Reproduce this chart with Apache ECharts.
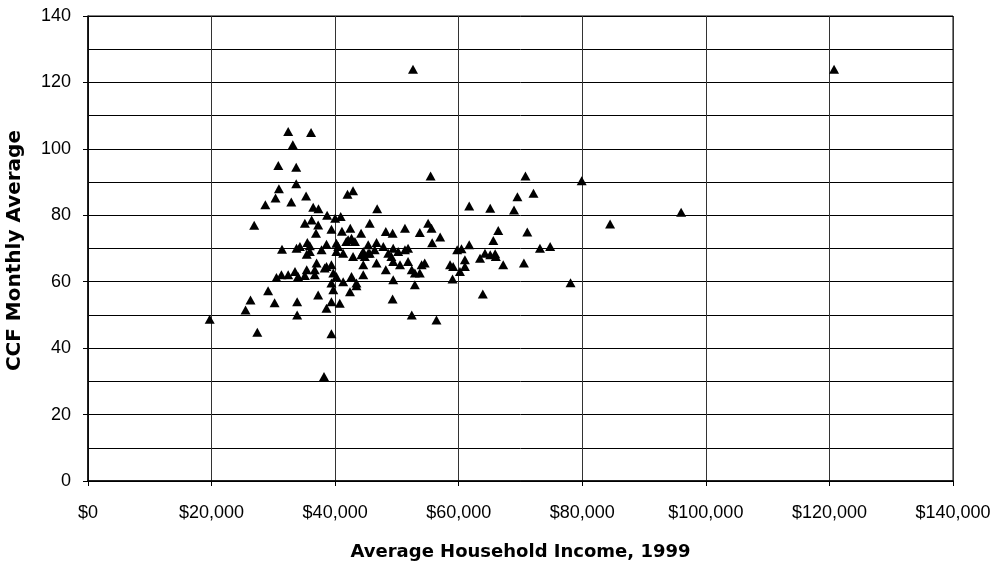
<!DOCTYPE html>
<html>
<head>
<meta charset="utf-8">
<script src="https://cdn.jsdelivr.net/npm/echarts@6/dist/echarts.min.js"></script>
<style>html,body{margin:0;padding:0;background:#fff}#c{width:1001px;height:564px}</style>
</head>
<body>
<div id="c"></div>
<script>
// Average household income (1999, $)
const incomes = [
19700,25500,26300,27400,26900,28700,29150,30350,30900,30800,
32400,36100,33150,33700,33700,32900,35300,36450,37300,42000,
42900,46800,31400,30500,31300,32400,33500,34000,35400,35100,
36700,30200,33850,33850,37250,38600,39400,40750,39700,42400,
43450,39400,38200,38700,40000,40900,35100,36200,37250,36900,
39400,41100,42450,45600,44200,46700,34300,35500,35900,35400,
37800,38600,40200,41800,42650,43200,40200,41300,42900,44550,
44800,45600,46400,46700,37000,36700,38600,39400,39700,40200,
41300,42650,43450,44550,39400,33750,40500,42100,44250,38300,
48200,49300,51300,53700,55050,55600,55700,57000,45350,45350,
47800,48600,49400,49100,50200,51300,51800,44550,48200,49400,
50500,51800,52400,52900,54000,54500,53700,49400,52900,49300,
52400,56400,55450,70800,79900,69500,72100,61700,65100,68950,
66400,71100,65600,73150,74800,59750,60450,61700,63450,64250,
65100,65900,66000,67200,70550,58600,59100,61000,61000,60200,
59000,63900,78100,84500,96000,120750,52600,35900
];
// CCF monthly average
const ccf = [
48.7,51.5,54.5,44.8,77.0,83.2,57.3,85.2,88.0,95.0,
105.2,104.9,101.2,94.5,89.5,84.0,85.8,82.4,82.0,86.3,
87.4,82.0,69.8,61.3,62.1,62.1,63.1,61.6,63.6,61.9,
62.1,53.7,54.0,50.0,56.0,52.0,54.0,53.5,57.6,57.0,
58.8,44.3,31.5,80.0,79.1,79.6,77.6,78.6,77.1,74.6,
75.8,75.2,76.1,77.6,74.6,71.8,70.6,71.8,70.8,68.3,
69.6,71.3,71.6,72.1,73.1,72.1,69.1,68.6,67.6,69.1,
67.6,68.6,69.6,65.6,65.6,63.6,64.6,65.1,62.6,61.6,
60.0,61.6,59.6,62.1,59.6,70.1,70.6,72.6,68.1,64.1,
75.1,74.6,76.1,74.8,77.6,76.1,71.7,73.5,71.1,68.6,
70.6,68.6,70.1,67.6,69.1,69.6,70.1,65.1,63.6,66.1,
65.1,66.1,63.6,62.6,65.1,65.6,62.6,60.6,59.1,54.8,
50.0,48.5,91.8,91.8,90.4,85.6,86.6,82.8,82.1,81.6,
75.4,75.0,72.4,70.1,70.6,69.6,69.9,71.1,67.1,68.6,
68.1,68.4,67.6,65.1,65.6,65.1,64.6,66.6,64.6,63.1,
60.8,56.3,59.7,77.4,80.9,124.0,124.0,69.1
];
const xTicks = [0,20000,40000,60000,80000,100000,120000,140000];
const yTicks = [0,20,40,60,80,100,120,140];
const xTitle = 'Average Household Income, 1999';
const yTitle = 'CCF Monthly Average';

const points = incomes.map((v,i)=>[v, ccf[i]]);
const chart = echarts.init(document.getElementById('c'), null, {renderer:'canvas'});
const fam = 'Liberation Sans, Arial, sans-serif';
chart.setOption({
  animation:false,
  backgroundColor:'#fff',
  grid:{left:88,right:48,top:16,bottom:83,show:true,borderColor:'#000',borderWidth:1,
        containLabel:false,outerBoundsMode:'none'},
  graphic:[{
    type:'text', left:5, top:130, rotation:Math.PI/2,
    style:{text:yTitle, fontFamily:'DejaVu Sans', fontWeight:'bold', fontSize:20, fill:'#000'}
  }],
  xAxis:{
    type:'value', min:xTicks[0], max:xTicks[xTicks.length-1], interval:20000,
    name:xTitle, nameLocation:'middle', nameGap:62,
    nameTextStyle:{fontFamily:'DejaVu Sans',fontWeight:'bold',fontSize:18,color:'#000'},
    axisLine:{show:true,onZero:false,lineStyle:{color:'#000',width:1.5}},
    axisTick:{show:true,length:5,lineStyle:{color:'#000'}},
    axisLabel:{fontFamily:fam,fontSize:18,color:'#000',margin:23,
      formatter:v=>'$'+v.toLocaleString('en-US')},
    splitLine:{show:true,lineStyle:{color:'#333',width:1}}
  },
  yAxis:{
    type:'value', min:yTicks[0], max:yTicks[yTicks.length-1], interval:20,
    axisLine:{show:true,onZero:false,lineStyle:{color:'#000',width:1.5}},
    axisTick:{show:true,length:5,lineStyle:{color:'#000'}},
    minorTick:{show:false,splitNumber:2},
    minorSplitLine:{show:true,lineStyle:{color:'#000',width:1}},
    axisLabel:{fontFamily:fam,fontSize:18,color:'#000',margin:17},
    splitLine:{show:true,lineStyle:{color:'#000',width:1}}
  },
  series:[{
    type:'scatter', data:points, symbol:'triangle', symbolSize:[10,9],
    itemStyle:{color:'#000',opacity:1}
  }]
});
</script>
</body>
</html>
